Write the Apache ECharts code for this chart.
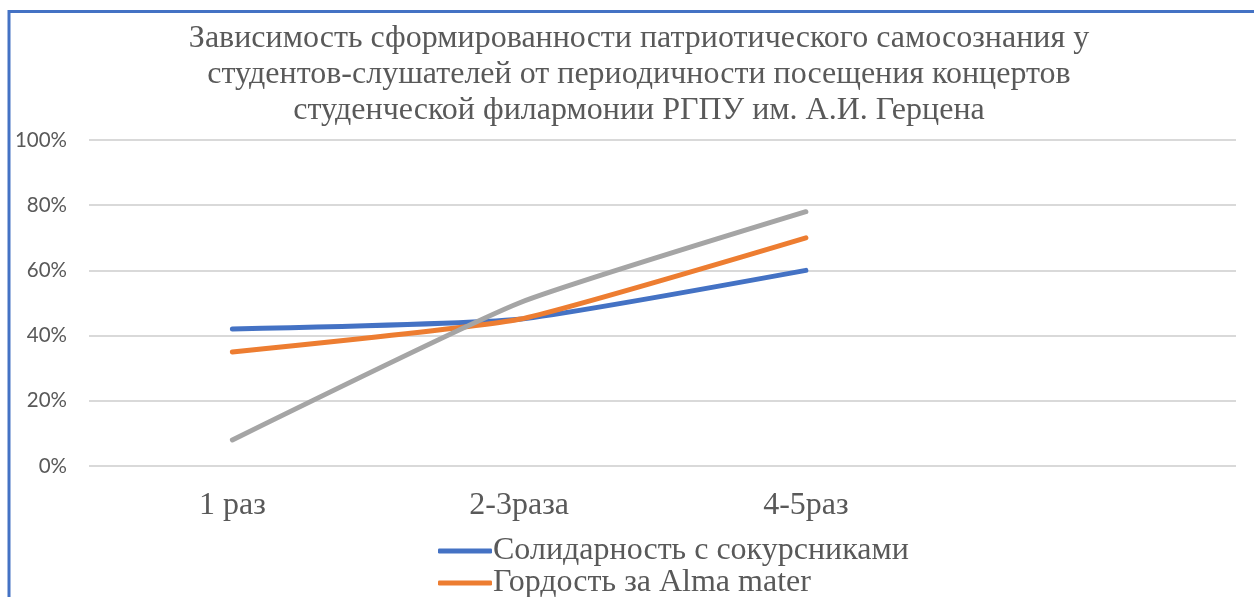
<!DOCTYPE html>
<html>
<head>
<meta charset="utf-8">
<script src="https://cdn.jsdelivr.net/npm/echarts@6/dist/echarts.min.js"></script>
<style>
  html, body { margin: 0; padding: 0; background: #fff; }
  #chart { width: 1254px; height: 597px; }
</style>
</head>
<body>
<div id="chart"></div>
<script>
  // categories (the 4th slot is empty in the original chart)
  var categories = ['1 раз', '2-3раза', '4-5раз', '']
  var seriesNames = ['Солидарность с сокурсниками', 'Гордость за Alma mater', 'Чувство гордости за страну']
  var solidarity = [0.42, 0.45, 0.60]
  var pride = [0.35, 0.45, 0.70]
  var third = [0.08, 0.50, 0.78]

  var titleText = 'Зависимость сформированности патриотического самосознания у\n' +
    'студентов-слушателей от периодичности посещения концертов\n' +
    'студенческой филармонии РГПУ им. А.И. Герцена'

  var serif = '"Liberation Serif", "DejaVu Serif", serif'
  var colors = ['#4472C4', '#ED7D31', '#A5A5A5']

  var chart = echarts.init(document.getElementById('chart'))

  function lineSeries(name, data, color) {
    return {
      name: name,
      type: 'line',
      data: data,
      smooth: 0.15,
      symbol: 'none',
      lineStyle: { color: color, width: 5, cap: 'round', join: 'round' },
      itemStyle: { color: color }
    }
  }

  chart.setOption({
    animation: false,
    color: colors,
    graphic: [{
      type: 'rect',
      shape: { x: 9, y: 11.5, width: 1300, height: 700 },
      style: { fill: 'none', stroke: '#4472C4', lineWidth: 3 },
      silent: true
    }, {
      // chart title, centred on the chart frame rather than the page
      type: 'text',
      x: 639,
      y: 21,
      silent: true,
      style: {
        text: titleText,
        align: 'center',
        verticalAlign: 'top',
        fontFamily: serif,
        fontSize: 32,
        lineHeight: 36,
        fill: '#595959'
      }
    }],
    legend: {
      orient: 'vertical',
      left: 433,
      top: 530,
      height: 200,
      itemWidth: 54,
      itemHeight: 5,
      itemGap: 0,
      icon: 'roundRect',
      textStyle: {
        fontFamily: serif,
        fontSize: 32,
        lineHeight: 32,
        color: '#595959',
        padding: [0, 0, 0, -4]
      },
      data: seriesNames
    },
    grid: {
      left: 89,
      right: 18,
      top: 140,
      bottom: 131,
      containLabel: false
    },
    xAxis: {
      type: 'category',
      data: categories,
      boundaryGap: true,
      axisLine: { show: false },
      axisTick: { show: false },
      axisLabel: {
        margin: 24,
        fontFamily: serif,
        fontSize: 32,
        color: '#595959'
      }
    },
    yAxis: {
      type: 'value',
      min: 0,
      max: 1,
      interval: 0.2,
      axisLine: { show: false },
      axisTick: { show: false },
      splitLine: { lineStyle: { color: '#D9D9D9', width: 2 } },
      axisLabel: {
        margin: 22,
        fontFamily: 'Lato, "Open Sans", sans-serif',
        fontSize: 20.5,
        color: '#595959',
        formatter: function(v) {
          return Math.round(v * 100) + '%'
        }
      }
    },
    series: [
      lineSeries(seriesNames[0], solidarity, colors[0]),
      lineSeries(seriesNames[1], pride, colors[1]),
      lineSeries(seriesNames[2], third, colors[2])
    ]
  })
</script>
</body>
</html>
